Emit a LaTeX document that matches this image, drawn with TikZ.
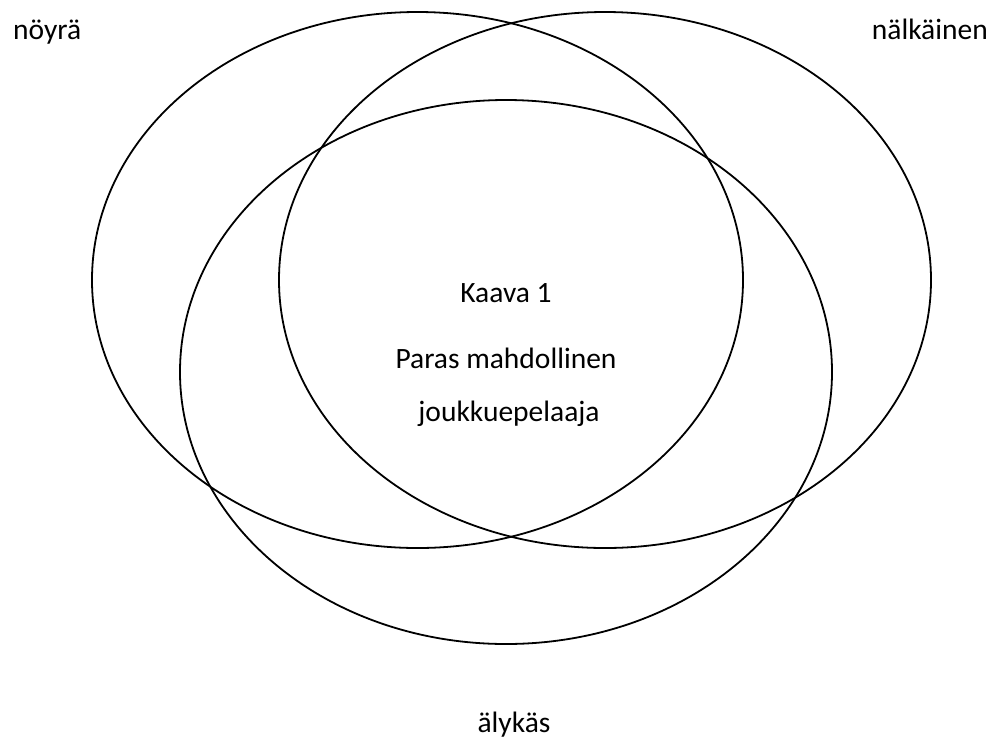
\documentclass[tikz,border=0pt]{standalone}
\usepackage{fontspec}
\setmainfont{Carlito}
\begin{document}
\begin{tikzpicture}[x=1pt,y=-1pt,
  ring/.style={draw=black,line width=1.8pt},
  lbl/.style={inner sep=0pt,font=\fontsize{29.5}{35}\selectfont}]
\useasboundingbox (0,0) rectangle (996,740);
\draw[ring] (417.5,280) ellipse [x radius=325.5, y radius=268];
\draw[ring] (605,280) ellipse [x radius=326, y radius=268];
\draw[ring] (506,372) ellipse [x radius=326, y radius=272];
\node[lbl,anchor=base west] (noyra) at (13,39) {nöyrä};
\node[lbl,anchor=base east] (nalkainen) at (988,39) {nälkäinen};
\node[lbl,anchor=base] (alykas) at (514,732) {älykäs};
\node[lbl,anchor=base] (kaava) at (506,302) {Kaava 1};
\node[lbl,anchor=base] (paras) at (506,368) {Paras mahdollinen};
\node[lbl,anchor=base] (joukkue) at (509,421) {joukkuepelaaja};
\end{tikzpicture}
\end{document}
